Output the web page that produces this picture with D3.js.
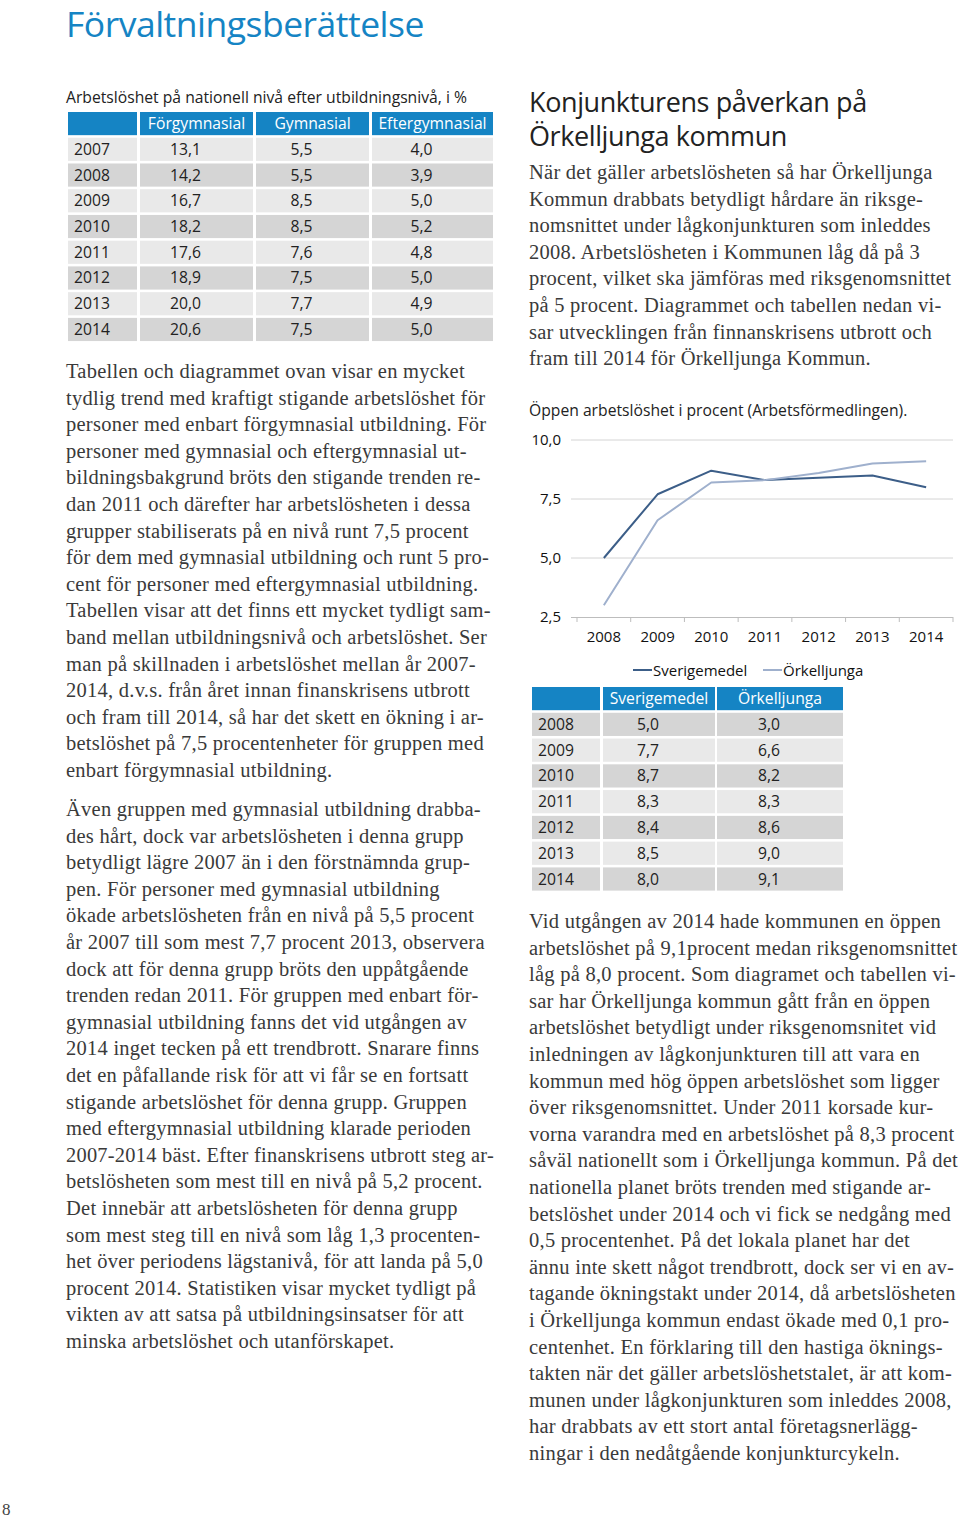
<!DOCTYPE html>
<html><head><meta charset="utf-8">
<script src="https://cdn.jsdelivr.net/npm/d3@7"></script>
<style>
html,body{margin:0;padding:0;background:#fff;}
svg{display:block;}
</style></head>
<body>
<svg id="page" width="960" height="1518"></svg>
<script>
// ---------- data ----------
const eduYears = ["2007","2008","2009","2010","2011","2012","2013","2014"];
const eduHeaders = ["Förgymnasial","Gymnasial","Eftergymnasial"];
const forgymnasial = [13.1,14.2,16.7,18.2,17.6,18.9,20.0,20.6];
const gymnasial = [5.5,5.5,8.5,8.5,7.6,7.5,7.7,7.5];
const eftergymnasial = [4.0,3.9,5.0,5.2,4.8,5.0,4.9,5.0];

const chartYears = ["2008","2009","2010","2011","2012","2013","2014"];
const seriesNames = ["Sverigemedel","Örkelljunga"];
const sverigemedel = [5.0,7.7,8.7,8.3,8.4,8.5,8.0];
const orkelljunga = [3.0,6.6,8.2,8.3,8.6,9.0,9.1];
const yTicks = [2.5,5.0,7.5,10.0];

const leftPara1 = [
"Tabellen och diagrammet ovan visar en mycket",
"tydlig trend med kraftigt stigande arbetslöshet för",
"personer med enbart förgymnasial utbildning. För",
"personer med gymnasial och eftergymnasial ut-",
"bildningsbakgrund bröts den stigande trenden re-",
"dan 2011 och därefter har arbetslösheten i dessa",
"grupper stabiliserats på en nivå runt 7,5 procent",
"för dem med gymnasial utbildning och runt 5 pro-",
"cent för personer med eftergymnasial utbildning.",
"Tabellen visar att det finns ett mycket tydligt sam-",
"band mellan utbildningsnivå och arbetslöshet. Ser",
"man på skillnaden i arbetslöshet mellan år 2007-",
"2014, d.v.s. från året innan finanskrisens utbrott",
"och fram till 2014, så har det skett en ökning i ar-",
"betslöshet på 7,5 procentenheter för gruppen med",
"enbart förgymnasial utbildning."];
const leftPara2 = [
"Även gruppen med gymnasial utbildning drabba-",
"des hårt, dock var arbetslösheten i denna grupp",
"betydligt lägre 2007 än i den förstnämnda grup-",
"pen. För personer med gymnasial utbildning",
"ökade arbetslösheten från en nivå på 5,5 procent",
"år 2007 till som mest 7,7 procent 2013, observera",
"dock att för denna grupp bröts den uppåtgående",
"trenden redan 2011. För gruppen med enbart för-",
"gymnasial utbildning fanns det vid utgången av",
"2014 inget tecken på ett trendbrott. Snarare finns",
"det en påfallande risk för att vi får se en fortsatt",
"stigande arbetslöshet för denna grupp. Gruppen",
"med eftergymnasial utbildning klarade perioden",
"2007-2014 bäst. Efter finanskrisens utbrott steg ar-",
"betslösheten som mest till en nivå på 5,2 procent.",
"Det innebär att arbetslösheten för denna grupp",
"som mest steg till en nivå som låg 1,3 procenten-",
"het över periodens lägstanivå, för att landa på 5,0",
"procent 2014. Statistiken visar mycket tydligt på",
"vikten av att satsa på utbildningsinsatser för att",
"minska arbetslöshet och utanförskapet."];
const rightPara1 = [
"När det gäller arbetslösheten så har Örkelljunga",
"Kommun drabbats betydligt hårdare än riksge-",
"nomsnittet under lågkonjunkturen som inleddes",
"2008. Arbetslösheten i Kommunen låg då på 3",
"procent, vilket ska jämföras med riksgenomsnittet",
"på 5 procent. Diagrammet och tabellen nedan vi-",
"sar utvecklingen från finnanskrisens utbrott och",
"fram till 2014 för Örkelljunga Kommun."];
const rightPara2 = [
"Vid utgången av 2014 hade kommunen en öppen",
"arbetslöshet på 9,1procent medan riksgenomsnittet",
"låg på 8,0 procent. Som diagramet och tabellen vi-",
"sar har Örkelljunga kommun gått från en öppen",
"arbetslöshet betydligt under riksgenomsnitet vid",
"inledningen av lågkonjunkturen till att vara en",
"kommun med hög öppen arbetslöshet som ligger",
"över riksgenomsnittet. Under 2011 korsade kur-",
"vorna varandra med en arbetslöshet på 8,3 procent",
"såväl nationellt som i Örkelljunga kommun. På det",
"nationella planet bröts trenden med stigande ar-",
"betslöshet under 2014 och vi fick se nedgång med",
"0,5 procentenhet. På det lokala planet har det",
"ännu inte skett något trendbrott, dock ser vi en av-",
"tagande ökningstakt under 2014, då arbetslösheten",
"i Örkelljunga kommun endast ökade med 0,1 pro-",
"centenhet. En förklaring till den hastiga öknings-",
"takten när det gäller arbetslöshetstalet, är att kom-",
"munen under lågkonjunkturen som inleddes 2008,",
"har drabbats av ett stort antal företagsnerlägg-",
"ningar i den nedåtgående konjunkturcykeln."];

// ---------- helpers ----------
const svg = d3.select("#page");
const SANS = "'Open Sans','Noto Sans',sans-serif";
const SERIF = "'Liberation Serif','Times New Roman',serif";
const BLUE = "#1584c4";
const fmt = v => d3.format(".1f")(v).replace(".", ",");

function paragraph(lines, x, y0, maxW) {
  const g = svg.append("g");
  g.selectAll("text").data(lines).join("text")
    .attr("x", x).attr("y", (d, i) => y0 + i * 26.6)
    .attr("font-family", SERIF).attr("font-size", 20.5).attr("letter-spacing", 0.25)
    .attr("fill", "#3a3a3a").text(d => d)
    .each(function () {
      const w = this.getComputedTextLength();
      if (w > maxW) d3.select(this).attr("textLength", maxW).attr("lengthAdjust", "spacingAndGlyphs");
    });
}

// ---------- title ----------
svg.append("text").attr("x", 66).attr("y", 37)
  .attr("font-family", SANS).attr("font-size", 35.5).attr("fill", BLUE)
  .attr("letter-spacing", -0.5)
  .text("Förvaltningsberättelse");

// ---------- table 1 ----------
svg.append("text").attr("x", 66).attr("y", 103)
  .attr("font-family", SANS).attr("font-size", 15.7).attr("fill", "#222")
  .text("Arbetslöshet på nationell nivå efter utbildningsnivå, i %");

function table(x0s, x1s, headers, rows, yTop, firstDark) {
  const rowY = d3.scaleBand().domain(d3.range(rows.length + 1)).range([yTop, yTop + 25.45 * (rows.length + 1)]).paddingInner(0.1);
  const g = svg.append("g");
  x0s.forEach((x0, c) => {
    g.append("rect").attr("x", x0).attr("y", rowY(0)).attr("width", x1s[c] - x0).attr("height", rowY.bandwidth()).attr("fill", BLUE);
    if (c > 0) g.append("text").attr("x", (x0 + x1s[c]) / 2).attr("y", rowY(0) + rowY.bandwidth() / 2 + 5.5)
      .attr("text-anchor", "middle").attr("font-family", SANS).attr("font-size", 15.7).attr("fill", "#fff").text(headers[c - 1]);
  });
  rows.forEach((r, i) => {
    const y = rowY(i + 1);
    const dark = (i % 2 === 0) === firstDark;
    x0s.forEach((x0, c) => {
      g.append("rect").attr("x", x0).attr("y", y).attr("width", x1s[c] - x0).attr("height", rowY.bandwidth())
        .attr("fill", dark ? "#d5d5d5" : "#e9e9e9");
      const t = g.append("text").attr("y", y + rowY.bandwidth() / 2 + 5.5)
        .attr("font-family", SANS).attr("font-size", 15.7).attr("fill", "#222");
      if (c === 0) t.attr("x", x0 + 6).text(r[0]);
      else t.attr("x", (x0 + x1s[c]) / 2 - 11).attr("text-anchor", "middle").text(fmt(r[c]));
    });
  });
}
table([68,140,256,372],[137,253,369,493], eduHeaders,
  eduYears.map((y, i) => [y, forgymnasial[i], gymnasial[i], eftergymnasial[i]]), 112, false);

// ---------- left paragraphs ----------
paragraph(leftPara1, 66, 378, 428);
paragraph(leftPara2, 66, 816, 428);

// ---------- right heading ----------
svg.append("text").attr("x", 529).attr("y", 112)
  .attr("font-family", SANS).attr("font-size", 27).attr("fill", "#222").attr("letter-spacing", -0.4)
  .text("Konjunkturens påverkan på");
svg.append("text").attr("x", 529).attr("y", 146)
  .attr("font-family", SANS).attr("font-size", 27).attr("fill", "#222").attr("letter-spacing", -0.4)
  .text("Örkelljunga kommun");
paragraph(rightPara1, 529, 179, 428);

// ---------- chart ----------
svg.append("text").attr("x", 529).attr("y", 416)
  .attr("font-family", SANS).attr("font-size", 15.7).attr("fill", "#222")
  .text("Öppen arbetslöshet i procent (Arbetsförmedlingen).");

const x = d3.scaleBand().domain(chartYears).range([577, 953]);
const y = d3.scaleLinear().domain([2.5, 10]).range([617, 440]);
const cg = svg.append("g");
cg.selectAll("line.grid").data(yTicks.slice(1)).join("line")
  .attr("x1", 571).attr("x2", 953).attr("y1", d => y(d)).attr("y2", d => y(d))
  .attr("stroke", "#d4d4d4").attr("stroke-width", 1);
cg.selectAll("text.yl").data(yTicks).join("text")
  .attr("x", 561).attr("y", d => y(d) + 5).attr("text-anchor", "end")
  .attr("font-family", SANS).attr("font-size", 15).attr("fill", "#111").text(d => fmt(d));
const xAxis = cg.append("g").attr("transform", `translate(0,${y(2.5)})`)
  .call(d3.axisBottom(x).tickSize(0).tickPadding(14));
xAxis.select(".domain").attr("stroke", "#bdbdbd").attr("d", `M571,0.5H953`);
xAxis.selectAll("text").attr("font-family", SANS).attr("font-size", 15).attr("fill", "#111");
cg.selectAll("line.tk").data(d3.range(chartYears.length + 1)).join("line")
  .attr("x1", i => 577 + i * x.step()).attr("x2", i => 577 + i * x.step())
  .attr("y1", y(2.5)).attr("y2", y(2.5) + 5).attr("stroke", "#bdbdbd");

const lineGen = d3.line().x((d, i) => x(chartYears[i]) + x.bandwidth() / 2).y(d => y(d));
const colors = ["#3c5e88", "#9fb0cd"];
[sverigemedel, orkelljunga].forEach((s, k) => {
  cg.append("path").attr("d", lineGen(s)).attr("fill", "none")
    .attr("stroke", colors[k]).attr("stroke-width", 2).attr("stroke-linejoin", "round");
});
const legX = [633, 763];
seriesNames.forEach((n, k) => {
  cg.append("line").attr("x1", legX[k]).attr("x2", legX[k] + 19).attr("y1", 670).attr("y2", 670)
    .attr("stroke", colors[k]).attr("stroke-width", 2);
  cg.append("text").attr("x", legX[k] + 20).attr("y", 676).attr("font-family", SANS).attr("font-size", 15).attr("fill", "#111").text(n);
});

// ---------- table 2 ----------
table([532,603,717],[600,715,843], seriesNames,
  chartYears.map((yr, i) => [yr, sverigemedel[i], orkelljunga[i]]), 687, true);

paragraph(rightPara2, 529, 928, 430);

// page number
svg.append("text").attr("x", 2).attr("y", 1515).attr("font-family", SERIF).attr("font-size", 17).attr("fill", "#444").text("8");
</script>
</body></html>
